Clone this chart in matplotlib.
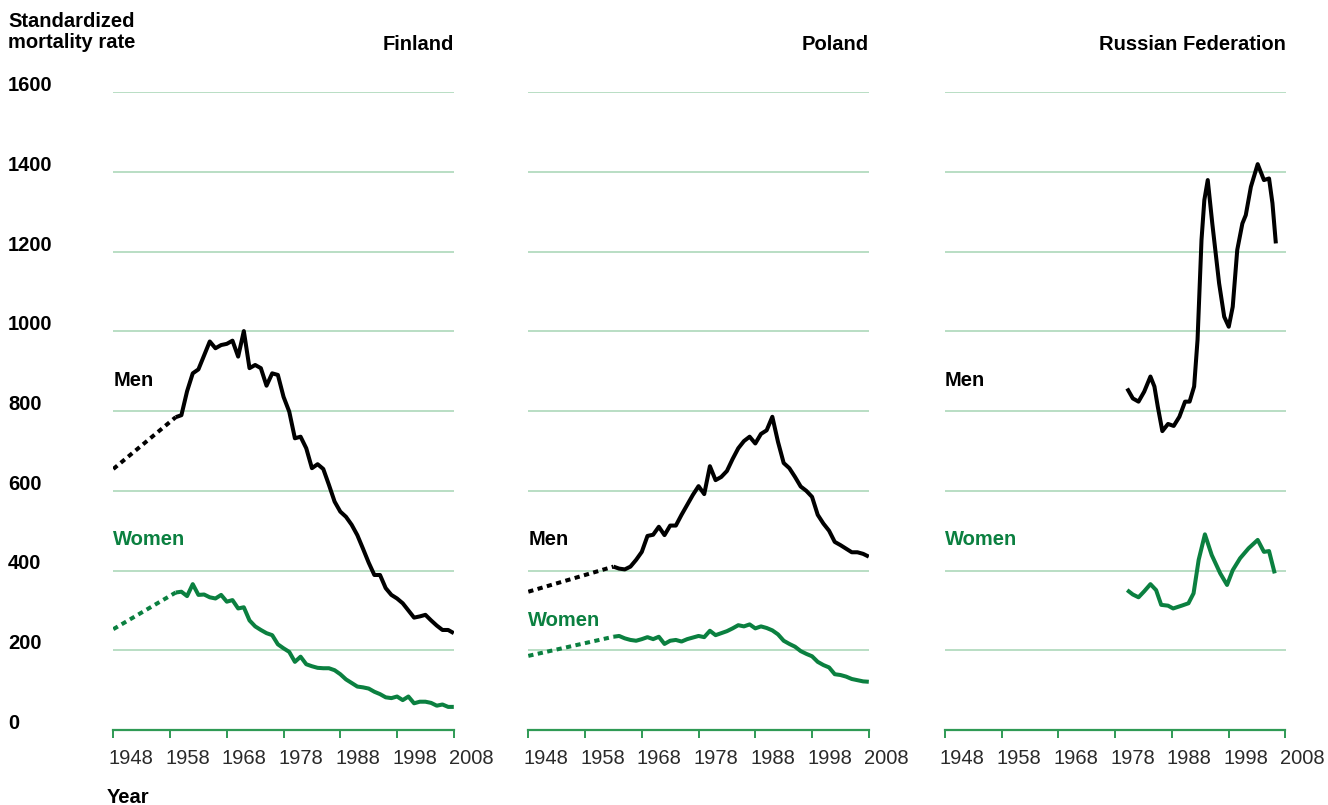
import matplotlib.pyplot as plt
from matplotlib import transforms

plt.rcParams['font.family'] = ['Liberation Sans', 'DejaVu Sans']

# Finland
fin_men_dot_years = [1948, 1959]
fin_men_dot = [655, 785]
fin_men_years = list(range(1959, 2009))
fin_men = [785, 790, 850, 895, 905, 940, 975, 958, 966, 969, 977, 937, 1001, 908, 916,
           908, 864, 895, 891, 836, 799, 732, 736, 707, 657, 667, 655, 615, 573, 548,
           535, 515, 489, 455, 420, 389, 389, 356, 339, 330, 318, 300, 282, 285, 289,
           275, 262, 251, 251, 243]
fin_women_dot_years = [1948, 1959]
fin_women_dot = [253, 345]
fin_women_years = list(range(1959, 2009))
fin_women = [345, 347, 336, 366, 339, 340, 333, 330, 339, 322, 326, 305, 308, 275, 260,
             251, 243, 238, 215, 205, 196, 171, 184, 165, 160, 156, 155, 155, 150, 140,
             127, 118, 109, 107, 104, 96, 90, 82, 80, 84, 75, 84, 67, 71, 71,
             68, 61, 64, 58, 58]

# Poland
pol_men_dot_years = [1948, 1963]
pol_men_dot = [347, 410]
pol_men_years = list(range(1963, 2009))
pol_men = [410, 405, 403, 410, 427, 447, 487, 490, 510, 489, 513, 513, 540, 565, 590,
           612, 592, 662, 627, 635, 650, 680, 707, 725, 736, 719, 743, 752, 786, 723,
           670, 657, 635, 611, 600, 585, 540, 518, 500, 472, 464, 455, 446, 446, 442,
           435]
pol_women_dot_years = [1948, 1963]
pol_women_dot = [186, 234]
pol_women_years = list(range(1963, 2009))
pol_women = [234, 236, 230, 226, 224, 228, 233, 228, 234, 216, 224, 226, 222, 228, 232,
             236, 233, 249, 238, 243, 248, 255, 263, 260, 265, 255, 260, 256, 250, 240,
             224, 216, 209, 198, 191, 185, 171, 163, 157, 140, 138, 134, 128, 125, 122,
             121]

# Russian Federation
rus_men_years = [1980.1, 1981.1, 1982.1, 1983.1, 1984.2, 1984.9, 1985.5, 1986.3, 1987.3,
                 1988.3, 1989.3, 1990.3, 1991.1, 1991.9, 1992.5, 1993.2, 1993.7, 1994.3,
                 1995.1, 1996.3, 1997.2, 1998.0, 1998.7, 1999.5, 2000.4, 2001.0, 2001.9,
                 2003.1, 2004.2, 2005.1, 2005.7, 2006.3]
rus_men = [857, 832, 824, 849, 887, 862, 811, 750, 768, 763, 786, 824, 824, 862, 979,
           1230, 1330, 1380, 1271, 1121, 1037, 1012, 1062, 1205, 1271, 1292, 1363, 1420,
           1380, 1384, 1322, 1221]
rus_women_years = [1980.1, 1981.1, 1982.1, 1983.1, 1984.2, 1985.2, 1986.1, 1987.3, 1988.2,
                   1989.7, 1990.9, 1991.8, 1992.7, 1993.8, 1995.0, 1996.5, 1997.7, 1998.7,
                   2000.0, 2001.5, 2003.1, 2004.2, 2005.1, 2006.1]
rus_women = [351, 340, 333, 348, 366, 351, 314, 312, 305, 312, 318, 343, 427, 491, 439,
             393, 364, 401, 431, 456, 477, 447, 449, 393]

countries = ['Finland', 'Poland', 'Russian Federation']
y_ticks = [0, 200, 400, 600, 800, 1000, 1200, 1400, 1600]
x_ticks = [1948, 1958, 1968, 1978, 1988, 1998, 2008]

MEN = '#000000'
WOMEN = '#0b8040'
GRID = '#a6d4b4'
AXIS = '#2f9a55'
W, H = 1328, 805
BOLD = 14.5

fig = plt.figure(figsize=(W / 100, H / 100), dpi=100)

panels = [
    (113.3, (fin_men_dot_years, fin_men_dot), (fin_men_years, fin_men),
     (fin_women_dot_years, fin_women_dot), (fin_women_years, fin_women), 878, 477),
    (528.3, (pol_men_dot_years, pol_men_dot), (pol_men_years, pol_men),
     (pol_women_dot_years, pol_women_dot), (pol_women_years, pol_women), 477, 276),
    (945.0, None, (rus_men_years, rus_men),
     None, (rus_women_years, rus_women), 878, 477),
]

bottom_px, top_px = 730, 92.4
axes = []
for (left_px, men_dot, men, women_dot, women, men_lab, women_lab), name in zip(panels, countries):
    ax = fig.add_axes([left_px / W, (H - bottom_px) / H, 340.5 / W, (bottom_px - top_px) / H])
    axes.append(ax)
    ax.set_xlim(1948, 2008)
    ax.set_ylim(0, 1600)
    for s in ['top', 'left', 'right']:
        ax.spines[s].set_visible(False)
    ax.spines['bottom'].set_color(AXIS)
    ax.spines['bottom'].set_linewidth(1.6)
    ax.set_yticks(y_ticks)
    ax.tick_params(axis='y', length=0, labelleft=False)
    ax.grid(axis='y', color=GRID, linewidth=1.1)
    ax.set_axisbelow(True)
    ax.set_xticks(x_ticks)
    ax.set_xticklabels([str(t) for t in x_ticks])
    ax.tick_params(axis='x', direction='out', length=6, width=1.4, color=AXIS,
                   pad=8, labelsize=14.5, labelcolor='#2a2a2a')
    shift = transforms.ScaledTranslation(-5 / 100, 0, fig.dpi_scale_trans)
    for lab in ax.get_xticklabels():
        lab.set_horizontalalignment('left')
        lab.set_transform(lab.get_transform() + shift)

    if men_dot is not None:
        ax.plot(*men_dot, color=MEN, lw=2.9, linestyle=(0, (1.3, 1.1)), dash_capstyle='butt')
        ax.plot(*women_dot, color=WOMEN, lw=2.9, linestyle=(0, (1.3, 1.1)), dash_capstyle='butt')
    ax.plot(*men, color=MEN, lw=2.9, solid_joinstyle='round', solid_capstyle='butt')
    ax.plot(*women, color=WOMEN, lw=2.9, solid_joinstyle='round', solid_capstyle='butt')

    ax.text(1948, men_lab, 'Men', color=MEN, fontsize=BOLD, fontweight='bold',
            ha='left', va='center')
    ax.text(1948, women_lab, 'Women', color=WOMEN, fontsize=BOLD, fontweight='bold',
            ha='left', va='center')

    tr = transforms.blended_transform_factory(ax.transAxes, fig.transFigure)
    ax.text(1.0, 1 - 50.5 / H, name, transform=tr, ha='right', va='baseline',
            fontsize=BOLD, fontweight='bold')

# y labels on the far left
tr = transforms.blended_transform_factory(fig.transFigure, axes[0].transData)
for v in y_ticks:
    axes[0].text(8 / W, v + 3, str(v), transform=tr, ha='left', va='baseline',
                 fontsize=BOLD, fontweight='bold', clip_on=False)

fig.text(8 / W, 1 - 12 / H, 'Standardized\nmortality rate', ha='left', va='top',
         fontsize=BOLD, fontweight='bold', linespacing=1.15)
fig.text(107 / W, 1 - 788 / H, 'Year', ha='left', va='top', fontsize=BOLD, fontweight='bold')

fig.savefig('out.png', dpi=100)
